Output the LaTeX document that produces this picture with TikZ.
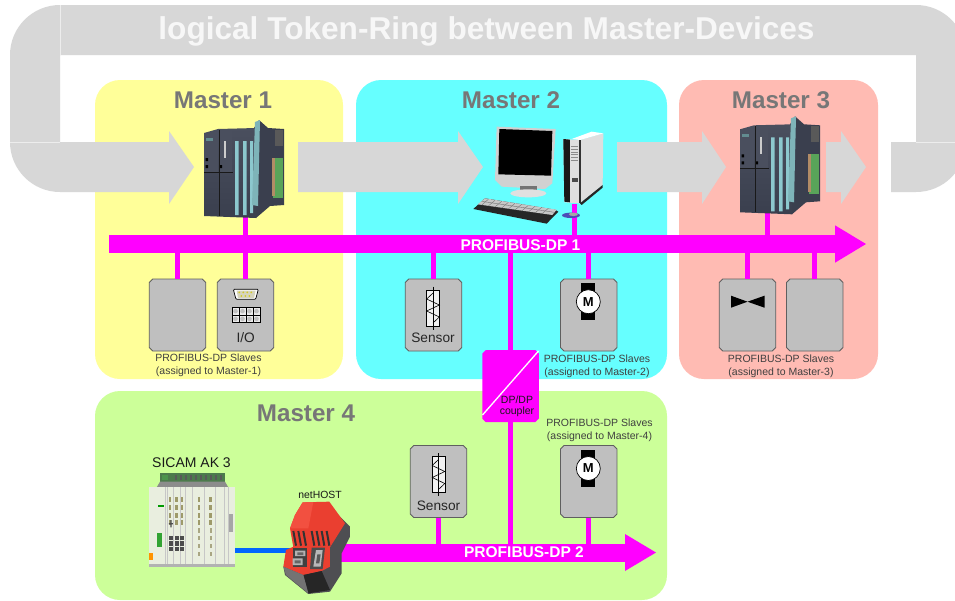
\documentclass[tikz,border=0pt]{standalone}
\usepackage{fontspec}
\setmainfont{Liberation Sans}
\definecolor{ringgray}{HTML}{D7D7D7}
\definecolor{busmag}{HTML}{FF00FF}
\definecolor{mastergray}{HTML}{777777}
\definecolor{pyellow}{HTML}{FFFF99}
\definecolor{pcyan}{HTML}{66FFFF}
\definecolor{psalmon}{HTML}{FFBBB3}
\definecolor{pgreen}{HTML}{CCFF99}
\definecolor{slavegray}{HTML}{BFBFBF}
\definecolor{slaveedge}{HTML}{5F5F5F}
\definecolor{linkblue}{HTML}{0066FF}
\definecolor{plcdark}{HTML}{3A3F4E}
\definecolor{plcmid}{HTML}{4A4F5E}
\definecolor{plcstrip}{HTML}{8CC8CE}
\definecolor{nhred}{HTML}{EA3F30}
\definecolor{nhredb}{HTML}{F25040}
\definecolor{nhgray}{HTML}{4E4E52}
\definecolor{rackc}{HTML}{E9EEDF}
\tikzset{
  panel/.style={rounded corners=25pt,inner sep=0pt,outer sep=0pt},
  mastertitle/.style={text=mastergray,font=\fontsize{24.2}{28}\selectfont\bfseries,inner sep=0pt},
  boxframe/.style={inner sep=0pt,outer sep=0pt,minimum width=56.5pt,minimum height=72pt},
  busbar/.style={fill=busmag,inner sep=0pt,outer sep=0pt,minimum height=18pt,anchor=west},
  buslabel/.style={text=white,font=\fontsize{15.5}{18}\selectfont\bfseries,inner sep=0pt},
  stub/.style={draw=busmag,line width=5pt},
  slavelabel/.style={align=center,text=black!75,font=\fontsize{10.5}{13}\selectfont,inner sep=0pt},
  boxtext/.style={text=black!85,font=\fontsize{13.7}{16}\selectfont,inner sep=0pt},
  smalltext/.style={text=black!90,inner sep=0pt}
}
\newcommand{\chamferpath}[2]{%
  \path[#2] ([xshift=3.5pt]#1.north west) -- ([xshift=-3.5pt]#1.north east) -- ([yshift=-3.5pt]#1.north east)
    -- ([yshift=3.5pt]#1.south east) -- ([xshift=-3.5pt]#1.south east) -- ([xshift=3.5pt]#1.south west)
    -- ([yshift=3.5pt]#1.south west) -- ([yshift=-3.5pt]#1.north west) -- cycle;}
\newcommand{\slave}[3]{%
  \node[boxframe] (#1) at (#2,#3) {};
  \chamferpath{#1}{draw=slaveedge,line width=.8pt,fill=slavegray}}
\newcommand{\plcdev}[2]{%
\begin{scope}[shift={(#1,#2)}]
  \fill[plcdark] (259,120) -- (268,128) -- (284,129) -- (284,205) -- (270,206) -- (256,218) -- (254,128) -- cycle;
  \shade[top color=plcmid,bottom color=plcdark] (204,133) -- (218,129) -- (256,128) -- (256,218) -- (204,216) -- cycle;
  \fill[plcmid] (204,134) -- (218,131) -- (218,172) -- (204,172) -- cycle;
  \fill[plcmid] (219,130) -- (232,129) -- (232,173) -- (219,173) -- cycle;
  \draw[black!90,line width=.5pt] (219,130) -- (219,216) (204,172) -- (233,172);
  \fill[black!20] (224,141) rectangle (226,158);
  \fill[black] (205.5,158) rectangle (208,161) (205.5,165) rectangle (208,168) (220,165) rectangle (222,168);
  \fill[plcstrip!70!black] (206,138) rectangle (213,141);
  \fill[plcstrip] (235,141) rectangle (238.5,215) (243,141) rectangle (246.5,215) (250,141) rectangle (253,213);
  \fill[plcstrip!90!black] (255,122) -- (260,120) -- (258,206) -- (252,205) -- cycle;
  \fill[green!45!black!65] (273,158) rectangle (283,198);
  \fill[orange!50!black!60] (272,158) rectangle (274.5,196);
  \fill[black!65] (275,130) rectangle (283,146);
\end{scope}}
\newcommand{\sensorsym}[2]{%
\begin{scope}[shift={(#1,#2)}]
  \draw[black,fill=black!5,line width=.6pt] (-6.3,-33) rectangle (6.3,3);
  \draw[black,line width=.6pt] (0,-36.5) -- (0,6.5);
  \draw[black,line width=.6pt] (0,-30) -- (-6.3,-24) -- (6.3,-18) -- (-6.3,-12) -- (6.3,-6) -- (0,0);
\end{scope}}
\newcommand{\motorsym}[3]{%
\begin{scope}[shift={(#1,#2)}]
  \fill[black] (-7,-18.5) rectangle (7,18.5);
  \node[circle,draw=black,fill=white,line width=.7pt,minimum size=24pt,inner sep=0pt,font=\fontsize{13}{15}\selectfont\bfseries] (#3) at (0,0) {M};
\end{scope}}
\begin{document}
\begin{tikzpicture}[x=1pt,y=-1pt]
\useasboundingbox (0,0) rectangle (955,600);
\fill[white] (0,0) rectangle (955,600);
% panels
\node[panel,fill=pyellow,minimum width=248pt,minimum height=299pt,anchor=north west] (m1) at (95,80) {};
\node[panel,fill=pcyan,minimum width=311pt,minimum height=299pt,anchor=north west] (m2) at (356,80) {};
\node[panel,fill=psalmon,minimum width=199pt,minimum height=299pt,anchor=north west] (m3) at (679,80) {};
\node[panel,fill=pgreen,minimum width=572pt,minimum height=209pt,anchor=north west] (m4) at (95,391) {};
% ring
\begin{scope}
\clip (0,0) rectangle (955,600);
\fill[ringgray] (916,5) -- (60,5) arc[start angle=90,end angle=180,radius=50pt] -- (10,142)
  arc[start angle=180,end angle=270,radius=50pt] -- (169,192) -- (169,204) -- (194,167) -- (169,131) -- (169,142)
  -- (60,142) -- (60,55) -- (916,55) -- (916,142) -- (891,142) -- (891,192) -- (916,192)
  arc[start angle=270,end angle=360,radius=50pt] -- (966,55) arc[start angle=0,end angle=90,radius=50pt] -- cycle;
\draw[black!7,line width=.5pt] (60,5) -- (60,55) (10,142) -- (60,142) (916,142) -- (955,142);
\end{scope}
\fill[ringgray] (298,142) -- (458,142) -- (458,131) -- (483,167) -- (458,204) -- (458,192) -- (298,192) -- cycle;
\fill[ringgray] (617,142) -- (702,142) -- (702,131) -- (726,167) -- (702,204) -- (702,192) -- (617,192) -- cycle;
\fill[ringgray] (826,142) -- (841,142) -- (841,131) -- (866,167) -- (841,204) -- (841,192) -- (826,192) -- cycle;
\node[text=black!3,font=\fontsize{31.6}{36}\selectfont\bfseries,inner sep=0pt] (ringtitle) at (486.5,31.5) {logical Token-Ring between Master-Devices};
% master titles
\node[mastertitle] (t1) at (223,100) {Master 1};
\node[mastertitle] (t2) at (511,100) {Master 2};
\node[mastertitle] (t3) at (781,100) {Master 3};
\node[mastertitle] (t4) at (306,413) {Master 4};
% buses
\node[busbar,minimum width=727pt] (bus1) at (109,244) {};
\fill[busmag] (835,225.3) -- (866,244) -- (835,262.7) -- cycle;
\node[busbar,minimum width=286pt] (bus2) at (340,552.5) {};
\fill[busmag] (625,534) -- (656,552.5) -- (625,571) -- cycle;
% slaves
\slave{s1}{177.5}{315}
\slave{s2}{245.5}{315}
\slave{s3}{433.5}{315}
\slave{s4}{588.7}{315}
\slave{s5}{747.5}{315}
\slave{s6}{814.7}{315}
\slave{s7}{438.5}{481.5}
\slave{s8}{588.7}{481.5}
\node[boxframe] (cp) at (510.5,386) {};
\chamferpath{cp}{fill=busmag}
% device anchors
\coordinate (plc1) at (245,217);
\coordinate (plc3) at (767,212);
\coordinate (pc) at (574,204);
% connectors
\foreach \a in {s1,s2,s3,s4,s5,s6} \draw[stub] (\a.north) -- (\a.north |- bus1.south);
\foreach \a in {s7,s8} \draw[stub] (\a.south) -- (\a.south |- bus2.north);
\draw[stub] (plc1) -- (plc1 |- bus1.north);
\draw[stub] (plc3) -- (plc3 |- bus1.north);
\draw[stub] (pc) -- (pc |- bus1.north);
\draw[stub] (cp.north) -- (cp.north |- bus1.south);
\draw[stub] (cp.south) -- (cp.south |- bus2.north);
\node[buslabel] (b1t) at (520.5,245) {PROFIBUS-DP 1};
\node[buslabel] (b2t) at (524,552.5) {PROFIBUS-DP 2};
% coupler details
\draw[white,line width=1.3pt] (538.5,351) -- (482.5,415);
\node[align=center,font=\fontsize{10.5}{11}\selectfont,text=black!90,inner sep=0pt] (cpt) at (517,406.5) {DP/DP\\coupler};
% slave symbols
\begin{scope}[shift={(90,270)},x=.3333pt,y=-.3333pt]
  \draw[black,fill=white,line width=.7pt,rounded corners=1pt] (430,58) -- (505,58) -- (497,88) -- (438,88) -- cycle;
  \fill[yellow!40!black!30] (440,62) -- (497,62) -- (492,84) -- (444,84) -- cycle;
  \foreach \x in {448,460,472,484} \fill[yellow!80!black] (\x,67) circle (1pt);
  \foreach \x in {454,466,478} \fill[yellow!80!black] (\x,78) circle (1pt);
  \foreach \x in {426,447,468,489}
    \foreach \y in {112,135} {
      \draw[black,fill=black!8,line width=.4pt] (\x,\y) rectangle ++(21,23);
      \fill[slavegray] (\x+10.5,\y+11.5) circle (2.3pt);
    }
\end{scope}
\node[boxtext] (iot) at (245.7,338) {I/O};
\sensorsym{433}{323}
\node[boxtext] (st1) at (433,338) {Sensor};
\sensorsym{438.5}{489.5}
\node[boxtext] (st2) at (438.5,505.5) {Sensor};
\motorsym{588.3}{301.7}{mo1}
\motorsym{588.3}{468.5}{mo2}
\fill[black] (731,295.7) -- (747.5,301.7) -- (731,307.7) -- cycle;
\fill[black] (764.5,295.7) -- (747.5,301.7) -- (764.5,307.7) -- cycle;
% slave captions
\node[slavelabel] (l1) at (208.5,365.5) {PROFIBUS-DP Slaves\\(assigned to Master-1)};
\node[slavelabel] (l2) at (597,366) {PROFIBUS-DP Slaves\\(assigned to Master-2)};
\node[slavelabel] (l3) at (781,366) {PROFIBUS-DP Slaves\\(assigned to Master-3)};
\node[slavelabel] (l4) at (599.5,430) {PROFIBUS-DP Slaves\\(assigned to Master-4)};
% PLCs
\plcdev{0}{0}
\plcdev{536}{-3.7}
% computer
\begin{scope}[shift={(465,115)},x=.3333pt,y=-.3333pt]
  \fill[black!18] (95,35) -- (272,42) -- (262,205) -- (240,222) -- (110,215) -- (90,195) -- cycle;
  \fill[black] (103,42) -- (262,48) -- (258,182) -- (100,178) -- cycle;
  \fill[black!55] (165,212) rectangle (215,228);
  \fill[black!12] (190,235) ellipse (18pt and 4pt);
  \fill[black!85] (60,250) -- (25,282) -- (245,326) -- (280,290) -- (270,284) -- cycle;
  \fill[black!22] (60,250) -- (275,284) -- (262,300) -- (38,268) -- cycle;
  \foreach \i in {0,...,9} \draw[black!55,line width=.4pt] (70+\i*20,253+\i*3) -- (50+\i*20,270+\i*3);
  \draw[black!55,line width=.4pt] (50,259) -- (268,292);
  \fill[black!13] (345,75) -- (415,55) -- (413,210) -- (345,265) -- cycle;
  \fill[black!12] (295,72) -- (345,75) -- (345,265) -- (298,262) -- cycle;
  \fill[white] (345,75) -- (415,55) -- (380,50) -- (320,72) -- cycle;
  \fill[black!90] (295,72) -- (315,74) -- (315,262) -- (298,260) -- cycle;
  \fill[black!80] (342,75) rectangle (349,265);
  \foreach \y in {95,103,...,135} \draw[black!45,line width=.6pt] (318,\y) -- (338,\y);
  \fill[black!70] (322,188) rectangle (338,200);
  \fill[black!85] (345,265) -- (413,210) -- (413,218) -- (350,270) -- cycle;
  \fill[blue!60!black!70] (318,301) ellipse (9pt and 2.7pt);
  \fill[black!35] (325,298) ellipse (4.5pt and 1.7pt);
\end{scope}
% Master 4 devices
\node[smalltext,font=\fontsize{14}{16}\selectfont] (sicamt) at (191.5,463) {SICAM AK 3};
\node[smalltext,font=\fontsize{10.4}{12}\selectfont] (nett) at (320,494.5) {netHOST};
% SICAM AK 3 rack
\begin{scope}[shift={(145,470)},x=.3333pt,y=-.3333pt]
  \fill[black!55!green!40!gray] (45,8) rectangle (240,36);
  \foreach \x in {90,105,...,225} \fill[black!65] (\x,14) rectangle (\x+7,30);
  \fill[green!40!black!70] (50,14) rectangle (70,30);
  \fill[black!45] (35,52) -- (45,35) -- (240,35) -- (250,52) -- cycle;
  \fill[rackc] (12,52) rectangle (270,285);
  \fill[black!30] (12,282) rectangle (270,290);
  \foreach \x in {62,68,85,105,122,143,178,212,238,250} \draw[black!22,line width=.5pt] (\x,52) -- (\x,282);
  \foreach \x in {75,95,112,162,197}
    \foreach \y in {82,105,128,150} \fill[olive!55!black!60] (\x-3.5,\y) rectangle (\x+3.5,\y+15);
  \foreach \x in {162,197}
    \foreach \y in {175,198,222,245} \fill[olive!45!black!50] (\x-3,\y) rectangle (\x+3,\y+13);
  \foreach \x in {77,95,112}
    \foreach \y in {197,214,231} \fill[black!70] (\x-6,\y) rectangle (\x+6,\y+13);
  \fill[black!70] (76,150) rectangle (80,172) (72,159) rectangle (84,163);
  \fill[green!55!black!80] (36,190) rectangle (50,232);
  \fill[green!60!black] (40,105) rectangle (58,110);
  \fill[orange!85!yellow] (12,250) rectangle (25,270);
  \fill[black!35] (253,132) rectangle (265,185);
\end{scope}
\coordinate (sicamout) at (235,550.5);
\coordinate (netin) at (294,550.5);
\draw[draw=linkblue,line width=4.5pt] (sicamout) -- (netin);
% netHOST
\begin{scope}[shift={(280,495)},x=.3333pt,y=-.3333pt]
  \fill[nhgray] (165,50) -- (210,95) -- (210,125) -- (185,175) -- (185,235) -- (150,290) -- (85,297) -- (15,240) -- (10,215) -- (150,150) -- cycle;
  \fill[nhred] (68,22) -- (148,20) -- (195,85) -- (150,157) -- (40,157) -- (30,100) -- (45,60) -- cycle;
  \fill[nhredb] (68,22) -- (100,21) -- (85,100) -- (30,100) -- (45,60) -- cycle;
  \fill[nhred] (40,155) -- (150,155) -- (150,215) -- (125,228) -- (70,240) -- (10,215) -- (18,165) -- cycle;
  \foreach \x in {40,55,70,95,110,125,140}
    \draw[black!80,line width=2pt] (\x,108) -- (\x+8,152);
  \fill[black!75] (38,160) rectangle (80,216);
  \fill[black!30] (45,167) rectangle (76,183) (38,190) rectangle (68,210);
  \fill[black!60] (52,172) rectangle (70,180) (44,196) rectangle (62,205);
  \fill[black!70] (95,158) -- (135,158) -- (128,222) -- (90,222) -- cycle;
  \fill[black!28] (108,165) -- (128,165) -- (122,215) -- (100,215) -- cycle;
  \fill[black!65] (112,178) -- (122,178) -- (118,205) -- (108,205) -- cycle;
  \fill[black!85] (70,240) -- (125,228) -- (150,285) -- (85,295) -- cycle;
  \fill[black!55] (10,215) -- (70,240) -- (85,295) -- (18,240) -- cycle;
\end{scope}
\end{tikzpicture}
\end{document}
